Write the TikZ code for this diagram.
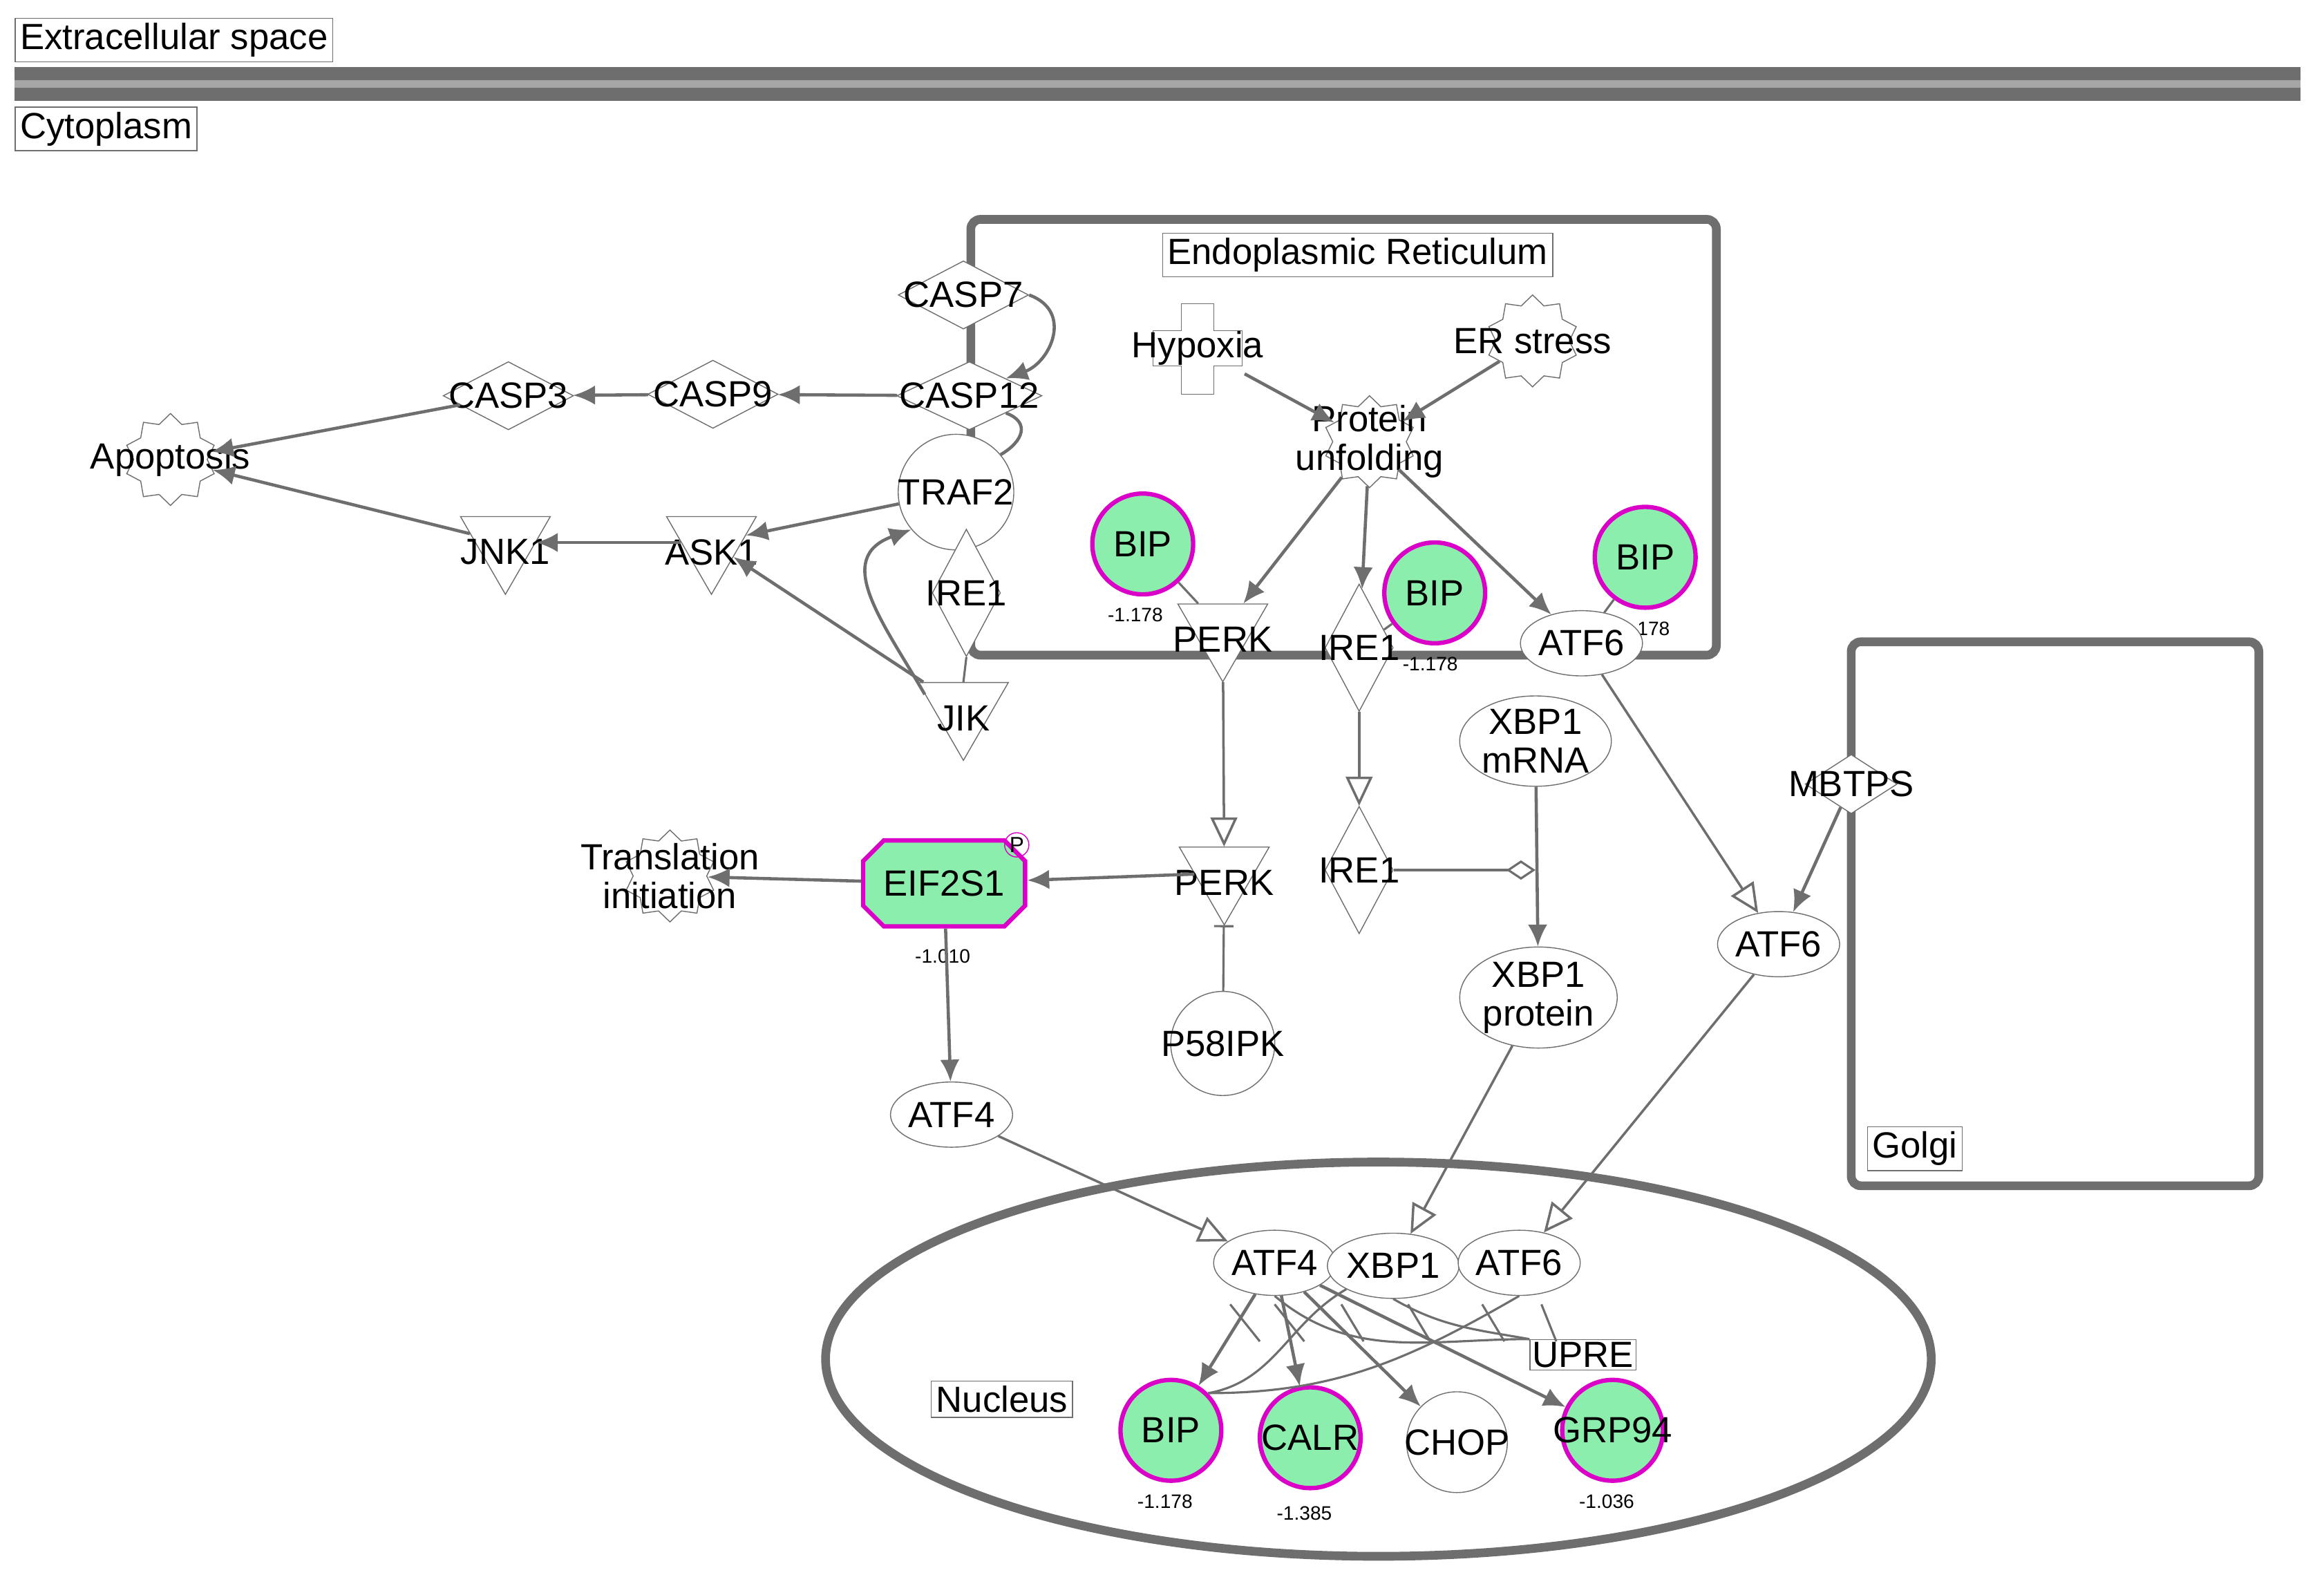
\documentclass[tikz,border=0pt]{standalone}
\usepackage{fontspec}
\setmainfont{Liberation Sans}
\usetikzlibrary{arrows.meta,shapes.geometric,shapes.misc}
\definecolor{upgreen}{RGB}{140,238,172}
\definecolor{magborder}{RGB}{218,0,200}
\definecolor{edgegray}{RGB}{110,110,110}
\newcommand{\px}[1]{#1*0.02145cm}
\tikzset{
  every node/.style={font=\fontsize{15}{16}\selectfont},
  mol/.style={draw=edgegray,fill=white,thin},
  oval/.style={mol,ellipse,minimum width=\px{82},minimum height=\px{44},inner sep=0pt},
  ball/.style={mol,circle,minimum size=\px{68},inner sep=-4pt},
  green ball/.style={ball,fill=upgreen,draw=magborder,line width=1.8pt},
  tri/.style={mol,regular polygon,regular polygon sides=3,shape border rotate=180,minimum size=\px{70},inner sep=0pt,label={[yshift=-4pt]center:#1}},
  dia/.style={mol,diamond,minimum width=\px{88},minimum height=\px{46},inner sep=0pt,label={center:#1}},
  vdia/.style={mol,diamond,minimum width=\px{46},minimum height=\px{86},inner sep=0pt,label={center:#1}},
  gear/.style={mol,star,star points=10,star point ratio=1.25,minimum size=\px{62},inner sep=0pt,label={center:#1}},
  box/.style={draw=edgegray,fill=white,thin,inner sep=2pt},
  val/.style={font=\fontsize{8}{9}\selectfont},
  act/.style={draw=edgegray,line width=1.3pt,-{Latex[length=9pt,width=8pt]}},
  trans/.style={draw=edgegray,line width=1pt,-{Triangle[open,length=12pt,width=11pt]}},
  plain/.style={draw=edgegray,line width=0.9pt},
  wall/.style={draw=edgegray,line width=3.6pt,rounded corners=4pt}
}
\begin{document}
\begin{tikzpicture}[x=0.02145cm,y=-0.02145cm]
\useasboundingbox (0,0) rectangle (1568,1070);
% membrane and compartments
\fill[edgegray] (10,45) rectangle (1552,68);
\fill[gray!70] (10,54) rectangle (1552,59);
\node[box,anchor=west] (extra) at (10,27) {Extracellular space};
\node[box,anchor=west] (cyto) at (10,87) {Cytoplasm};
\draw[wall] (655,148) rectangle (1158,442);
\draw[wall] (1249,433) rectangle (1524,800);
\draw[draw=edgegray,line width=3.6pt] (930,917) ellipse (373 and 133);
\node[box] (erlab) at (916,172) {Endoplasmic Reticulum};
\node[box] (golgilab) at (1292,775) {Golgi};
\node[box] (nuclab) at (676,944) {Nucleus};

% cytoplasm, apoptosis branch
\node[dia=CASP7] (casp7) at (650,199) {};
\node[dia=CASP12,minimum width=\px{98}] (casp12) at (654,267) {};
\node[dia=CASP9] (casp9) at (481,266) {};
\node[dia=CASP3] (casp3) at (343,267) {};
\node[gear=Apoptosis] (apop) at (115,310) {};
\node[ball,minimum size=\px{78}] (traf2) at (645,332) {TRAF2};
\node[vdia=IRE1] (ire1a) at (652,400) {};
\node[tri=JIK] (jik) at (650,478) {};
\node[tri=ASK1] (ask1) at (480,366) {};
\node[tri=JNK1] (jnk1) at (341,366) {};

% endoplasmic reticulum
\draw[mol] (797,205) -- (819,205) -- (819,223) -- (838,223) -- (838,247) -- (819,247)
  -- (819,266) -- (797,266) -- (797,247) -- (778,247) -- (778,223) -- (797,223) -- cycle;
\node (hypoxia) at (808,235) {Hypoxia};
\node[gear=ER stress] (erstress) at (1034,230) {};
\node[gear={}] (unfold) at (924,298) {};
\node[align=center] at (924,298) {Protein\\unfolding};
\node[green ball] (bip1) at (771,367) {BIP};
\node[green ball] (bip2) at (968,400) {BIP};
\node[green ball] (bip3) at (1110,376) {BIP};
\node[val] at (766,415) {-1.178};
\node[val] at (965,448) {-1.178};
\node[val] at (1108,424) {-1.178};
\node[tri=PERK] (perka) at (825,425) {};
\node[vdia=IRE1] (ire1b) at (917,437) {};
\node[oval] (atf6a) at (1067,434) {ATF6};

% cytoplasm, lower part
\node[oval,align=center,minimum width=\px{84},minimum height=\px{52}] (xbpm) at (1036,500) {XBP1\\mRNA};
\node[dia=MBTPS,minimum width=\px{62},minimum height=\px{40}] (mbtps) at (1249,529) {};
\node[tri=PERK] (perkb) at (826,589) {};
\node[vdia=IRE1] (ire1c) at (917,587) {};
\node[oval] (atf6b) at (1200,637) {ATF6};
\node[oval,align=center,minimum width=\px{84},minimum height=\px{52}] (xbpp) at (1038,673) {XBP1\\protein};
\node[ball,minimum size=\px{62}] (p58) at (825,704) {P58IPK};
\node[mol,chamfered rectangle,chamfered rectangle xsep=5pt,fill=upgreen,draw=magborder,line width=1.8pt,minimum width=\px{76},minimum height=\px{58}] (eif) at (637,596) {EIF2S1};
\node[circle,draw=magborder,thin,inner sep=0.5pt,font=\fontsize{9}{10}\selectfont] (phos) at (686,570) {P};
\node[val] at (636,645) {-1.010};
\node[gear={}] (transl) at (452,591) {};
\node[align=center] at (452,591) {Translation\\initiation};
\node[oval] (atf4a) at (642,752) {ATF4};

% nucleus
\node[oval] (atf4n) at (860,852) {ATF4};
\node[oval,minimum width=\px{78}] (xbp1n) at (940,854) {XBP1};
\node[oval] (atf6n) at (1025,852) {ATF6};
\node[box,inner sep=1pt] (upre) at (1068,914) {UPRE};
\node[green ball] (bipn) at (790,965) {BIP};
\node[green ball] (calr) at (884,970) {CALR};
\node[ball] (chop) at (983,973) {CHOP};
\node[green ball] (grp94) at (1088,965) {GRP94};
\node[val] at (786,1013) {-1.178};
\node[val] at (880,1021) {-1.385};
\node[val] at (1084,1013) {-1.036};

% connectors
\draw[act] (casp12) -- (casp9);
\draw[act] (casp9) -- (casp3);
\draw[act] (casp3) -- (apop);
\draw[act] (jnk1) -- (apop);
\draw[act] (ask1) -- (jnk1);
\draw[act] (traf2) -- (ask1);
\draw[act] (jik) -- (ask1);
\draw[act] (jik.160) to[out=120,in=200,looseness=1.3] (traf2.220);
\draw[plain] (ire1a.south) -- (jik.north);
\draw[act] (casp7.east) to[out=-20,in=20,looseness=1.4] (casp12.north east);
\draw[plain,line width=1.3pt] (casp12.south east) to[out=-20,in=30,looseness=1.6] (traf2.40);
\draw[act] (hypoxia) -- (unfold);
\draw[act] (erstress) -- (unfold);
\draw[act] (unfold) -- (perka);
\draw[act] (unfold) -- (ire1b);
\draw[act] (unfold) -- (atf6a);
\draw[plain] (bip1) -- (perka);
\draw[plain] (bip2) -- (ire1b);
\draw[plain] (bip3) -- (atf6a);
\draw[trans] (perka) -- (perkb);
\draw[trans] (ire1b) -- (ire1c);
\draw[trans] (atf6a) -- (atf6b);
\draw[act] (mbtps) -- (atf6b);
\coordinate (xsplit) at (1036,587);
\draw[act] (xbpm) -- (xbpp);
\draw[plain,-{Diamond[open,length=12pt,width=8pt]}] (ire1c) -- (xsplit);
\draw[act] (perkb) -- (eif);
\draw[act] (eif) -- (transl);
\draw[act] (eif) -- (atf4a);
\draw[plain,-{Bar[width=8pt]}] (p58) -- (perkb);
\draw[trans] (atf4a) -- (atf4n);
\draw[trans] (xbpp) -- (xbp1n);
\draw[trans] (atf6b) -- (atf6n);
\draw[act] (atf4n) -- (bipn);
\draw[act] (atf4n) -- (calr);
\draw[act] (atf4n) -- (chop);
\draw[act] (atf4n) -- (grp94);
% UPRE binding arcs
\draw[plain] (atf4n.south) to[out=-40,in=180] (upre.north west);
\draw[plain] (xbp1n.south) to[out=-30,in=170] (upre.north west);
\draw[plain] (atf6n.south) to[out=-150,in=0] (bipn.north east);
\draw[plain] (xbp1n.south west) to[out=-150,in=10] (bipn.north east);
\foreach \a/\b in {830/850,860/880,905/920,950/965,1000/1015,1040/1050}
  \draw[plain] (\a,880) -- (\b,905);
\end{tikzpicture}
\end{document}
